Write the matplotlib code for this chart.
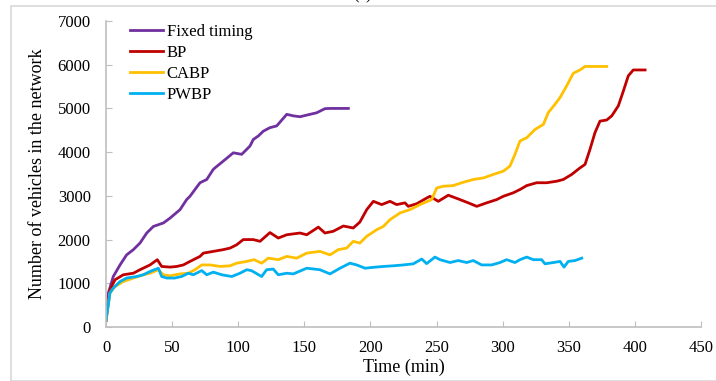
import matplotlib
matplotlib.use('Agg')
import matplotlib.pyplot as plt
from matplotlib.patches import Rectangle

plt.rcParams['font.family'] = ['Liberation Serif', 'DejaVu Serif']

# time (min) / number of vehicles for each control strategy
fixed_t = [0, 1.8, 5.5, 10.6, 15.6, 20.7, 25.7, 30.8, 35.8, 43.4, 48.4, 56, 61, 63.5, 71.1, 76.2, 81, 82.4, 88.7,
           96.3, 102.6, 103.8, 108.9, 111.4, 115.2, 119, 124, 129.1, 136.7, 141.7, 146.7, 154.3, 159.3, 165.6, 170, 183.3]
fixed_v = [150, 780, 1155, 1420, 1650, 1770, 1920, 2150, 2300, 2380, 2490, 2685, 2915, 2990, 3300, 3375, 3600, 3640, 3795,
           3985, 3950, 3985, 4140, 4290, 4370, 4480, 4560, 4600, 4865, 4830, 4810, 4865, 4900, 4995, 5000, 5000]

bp_t = [0, 3, 6.8, 13.1, 20.7, 25.7, 33.3, 38.8, 42.1, 48.4, 53.5, 58.5, 63.5, 71.1, 73.6, 81.2, 88.7, 93.8, 98.8,
        103.8, 111.4, 116.5, 124, 130.3, 136.7, 146.7, 151.8, 160.6, 165.6, 171.9, 179.5, 187, 192, 197.2, 202.2,
        208.5, 214.8, 219.8, 226.1, 228.6, 235, 242.5, 245, 251.3, 258.9, 267.7, 274, 280.4, 287.9, 295.5, 300.5,
        308, 313.1, 318.2, 325.7, 333.3, 340.9, 345.9, 352.2, 358.5, 362.3, 366, 369.8, 373.6, 378.7, 382.5, 387.5,
        391.3, 395, 398.8, 407.7]
bp_v = [150, 850, 1080, 1195, 1230, 1310, 1420, 1540, 1385, 1370, 1385, 1420, 1500, 1615, 1690, 1730, 1770, 1805, 1880,
        2000, 2000, 1960, 2160, 2035, 2110, 2150, 2110, 2285, 2150, 2190, 2310, 2265, 2400, 2685, 2875,
        2800, 2875, 2800, 2840, 2760, 2820, 2950, 2990, 2875, 3015, 2915, 2840, 2760, 2840, 2915, 2990,
        3070, 3145, 3235, 3300, 3300, 3335, 3375, 3490, 3640, 3720, 4060, 4445, 4710, 4735, 4830, 5060,
        5400, 5745, 5880, 5880]

cabp_t = [0, 3, 6.8, 13.1, 20.7, 28.2, 33.3, 39.6, 43.3, 48.4, 56, 62.2, 67.3, 72.4, 78.7, 86.2, 93.8, 98.8, 106.4,
          112, 117.7, 122.8, 130.3, 136.7, 144.2, 151.8, 161.8, 169.4, 175.7, 182, 187, 192, 197.2, 204.7, 209.7,
          214.8, 222.4, 229.9, 237.5, 246.3, 250.1, 255.1, 262.7, 269, 277.8, 285.4, 292.9, 300.5, 305.5, 309.3,
          313.1, 318.2, 324.5, 330.8, 334.5, 339.6, 343.4, 348.4, 353.4, 358.5, 362.3, 378.7]
cabp_v = [150, 780, 925, 1040, 1120, 1195, 1230, 1310, 1195, 1170, 1215, 1230, 1310, 1420, 1420, 1385, 1400, 1460, 1500,
          1540, 1460, 1575, 1540, 1615, 1575, 1690, 1730, 1650, 1770, 1805, 1960, 1920, 2075, 2225, 2300,
          2455, 2610, 2685, 2800, 2915, 3180, 3220, 3235, 3300, 3375, 3410, 3490, 3565, 3680, 3950,
          4255, 4330, 4520, 4635, 4905, 5095, 5250, 5515, 5805, 5880, 5960, 5960]

pwbp_t = [0, 3, 5.5, 10.6, 15.6, 23.2, 28.2, 33.3, 39.6, 42.1, 45.9, 51.9, 57.2, 62.2, 66, 72.4, 76.2, 81.2, 87.5,
          95.1, 101.3, 106.4, 110, 117.7, 121.5, 126.5, 130.3, 136.7, 141.7, 151.8, 161.8, 169.4, 177, 184.5, 189.6,
          195.9, 202.2, 209.7, 217.3, 224.9, 232.4, 238.8, 242.5, 248.8, 252.6, 260.2, 266.4, 272.8, 277.8, 284.1,
          291.7, 298, 303, 309.3, 313.1, 318.2, 323.2, 329.5, 332, 338.3, 343.4, 346.4, 349.6, 354.7, 359.8]
pwbp_v = [150, 780, 890, 1040, 1120, 1155, 1195, 1270, 1345, 1155, 1120, 1120, 1155, 1230, 1195, 1290, 1195, 1255, 1195,
          1155, 1230, 1310, 1290, 1155, 1310, 1325, 1195, 1230, 1215, 1345, 1310, 1215, 1345, 1460, 1420,
          1345, 1365, 1385, 1400, 1420, 1445, 1555, 1450, 1600, 1540, 1475, 1520, 1475, 1520, 1420,
          1420, 1475, 1540, 1475, 1540, 1600, 1540, 1540, 1445, 1475, 1500, 1370, 1500, 1520, 1575]

series = [('Fixed timing', fixed_t, fixed_v, '#7030A0'),
          ('BP', bp_t, bp_v, '#C00000'),
          ('CABP', cabp_t, cabp_v, '#FFC000'),
          ('PWBP', pwbp_t, pwbp_v, '#00B0F0')]

grey = '#BFBFBF'

fig = plt.figure(figsize=(7.16, 3.81), dpi=100)
ax = fig.add_axes([106/716, 1-327/381, 595/716, 306/381])

for name, t, v, c in series:
    ax.plot(t, v, color=c, lw=2, label=name, solid_joinstyle='round')

ax.set_xlim(0, 450)
ax.set_ylim(0, 7000)
ax.set_xticks(range(0, 451, 50))
ax.set_yticks(range(0, 7001, 1000))
for s in ['top', 'right']:
    ax.spines[s].set_visible(False)
for s in ['left', 'bottom']:
    ax.spines[s].set_color(grey)
    ax.spines[s].set_linewidth(1.2)
ax.tick_params(direction='in', length=4, color=grey, labelsize=12, pad=9)
ax.tick_params(axis='y', pad=11)

ax.set_xlabel('Time (min)', fontsize=13, labelpad=2)
ax.set_ylabel('Number of vehicles in the network', fontsize=13, labelpad=8)

fig.legend(loc='upper left', bbox_to_anchor=(130/716, 1-24/381), frameon=False, fontsize=12,
           handlelength=2.0, handletextpad=0.2, labelspacing=0.3, borderpad=0, borderaxespad=0)

# outer frame and panel letter
fig.patches.append(Rectangle((10.5/716, 0.5/381), 1.0, 375/381, transform=fig.transFigure,
                             fill=False, edgecolor='#D9D9D9', lw=1.2))
fig.text(363/716, 1-3/381, '(a)', ha='center', va='bottom', fontsize=12)

fig.savefig('out.png', dpi=100)
